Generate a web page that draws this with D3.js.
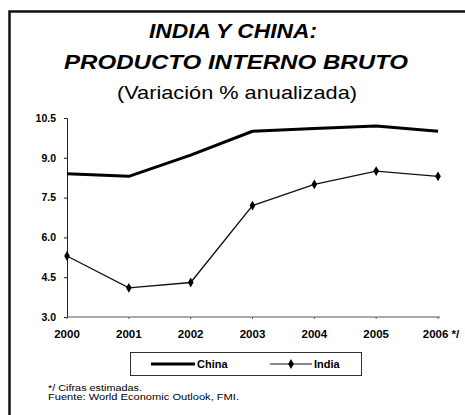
<!DOCTYPE html>
<html>
<head>
<meta charset="utf-8">
<script src="https://cdn.jsdelivr.net/npm/d3@7"></script>
<style>
  body { margin: 0; background: #fff; }
  text { font-family: "Liberation Sans", Arial, sans-serif; fill: #000; }
</style>
</head>
<body>
<script>
// data
const years = ['2000', '2001', '2002', '2003', '2004', '2005', '2006']
const yearLabels = ['2000', '2001', '2002', '2003', '2004', '2005', '2006 */']
const china = [8.4, 8.3, 9.1, 10.0, 10.1, 10.2, 10.0]
const india = [5.3, 4.1, 4.3, 7.2, 8.0, 8.5, 8.3]
const yTicks = [3.0, 4.5, 6.0, 7.5, 9.0, 10.5]

const width = 465
const height = 415

const svg = d3.select('body')
  .append('svg')
  .attr('width', width)
  .attr('height', height)

// frame: top and left edges only, the rest is cut off
svg.append('path')
  .attr('d', 'M9.5,415 V11.5 H465')
  .attr('fill', 'none')
  .attr('stroke', '#111')
  .attr('stroke-width', 2.5)

// titles
svg.append('text')
  .attr('x', 233).attr('y', 38)
  .attr('text-anchor', 'middle')
  .attr('font-size', 20).attr('font-weight', 'bold').attr('font-style', 'italic')
  .attr('textLength', 168).attr('lengthAdjust', 'spacingAndGlyphs')
  .text('INDIA Y CHINA:')

svg.append('text')
  .attr('x', 236).attr('y', 69)
  .attr('text-anchor', 'middle')
  .attr('font-size', 21).attr('font-weight', 'bold').attr('font-style', 'italic')
  .attr('textLength', 344).attr('lengthAdjust', 'spacingAndGlyphs')
  .text('PRODUCTO INTERNO BRUTO')

svg.append('text')
  .attr('x', 237).attr('y', 99)
  .attr('text-anchor', 'middle')
  .attr('font-size', 19)
  .attr('textLength', 240).attr('lengthAdjust', 'spacingAndGlyphs')
  .text('(Variación % anualizada)')

// scales
const x = d3.scalePoint().domain(years).range([67, 438])
const y = d3.scaleLinear().domain([3, 10.5]).range([317, 118])

// y axis
const yAxis = svg.append('g')
  .attr('transform', 'translate(67,0)')
  .call(d3.axisLeft(y).tickValues(yTicks).tickFormat(d3.format('.1f')).tickSize(3).tickPadding(8))
yAxis.select('.domain').attr('stroke', '#222').attr('stroke-width', 1)
yAxis.selectAll('line').attr('stroke', '#222')
yAxis.selectAll('text')
  .attr('font-size', 10.5).attr('font-weight', 'bold')
  .style('font-family', '"Liberation Sans", Arial, sans-serif')

// x axis
const xAxis = svg.append('g')
  .attr('transform', 'translate(0,317)')
  .call(d3.axisBottom(x).tickFormat((d, i) => yearLabels[i]).tickSize(2).tickPadding(11).offset(0))
xAxis.select('.domain').attr('stroke', '#555').attr('stroke-width', 1)
  .attr('d', 'M67,0H440')
xAxis.selectAll('line').attr('stroke', '#555')
xAxis.selectAll('text')
  .attr('font-size', 11.5).attr('font-weight', 'bold')
  .style('font-family', '"Liberation Sans", Arial, sans-serif')
xAxis.selectAll('.tick').filter((d, i) => i === years.length - 1)
  .select('text').attr('dx', 3)

// lines
const line = d3.line()
  .x((d, i) => x(years[i]))
  .y(d => y(d))

svg.append('path')
  .datum(china)
  .attr('d', line)
  .attr('fill', 'none')
  .attr('stroke', '#000')
  .attr('stroke-width', 3)
  .attr('stroke-linejoin', 'round')

svg.append('path')
  .datum(india)
  .attr('d', line)
  .attr('fill', 'none')
  .attr('stroke', '#111')
  .attr('stroke-width', 1.3)

const diamond = d3.symbol().type(d3.symbolDiamond).size(28)

svg.append('g')
  .selectAll('path')
  .data(india)
  .join('path')
  .attr('transform', (d, i) => `translate(${x(years[i])},${y(d)})`)
  .attr('d', diamond)
  .attr('fill', '#000')

// legend
const legend = svg.append('g')
legend.append('rect')
  .attr('x', 130.5).attr('y', 352.5)
  .attr('width', 231).attr('height', 23)
  .attr('fill', 'none')
  .attr('stroke', '#333')
  .attr('stroke-width', 1)

legend.append('line')
  .attr('x1', 151).attr('x2', 195).attr('y1', 364).attr('y2', 364)
  .attr('stroke', '#000').attr('stroke-width', 3)
legend.append('text')
  .attr('x', 197).attr('y', 368)
  .attr('font-size', 11).attr('font-weight', 'bold')
  .text('China')

legend.append('line')
  .attr('x1', 270).attr('x2', 312).attr('y1', 364).attr('y2', 364)
  .attr('stroke', '#111').attr('stroke-width', 1.2)
legend.append('path')
  .attr('transform', 'translate(291,364)')
  .attr('d', diamond)
  .attr('fill', '#000')
legend.append('text')
  .attr('x', 314).attr('y', 368)
  .attr('font-size', 11).attr('font-weight', 'bold')
  .text('India')

// footnotes
svg.append('text')
  .attr('x', 48).attr('y', 391)
  .attr('font-size', 8.5)
  .attr('textLength', 94).attr('lengthAdjust', 'spacingAndGlyphs')
  .text('*/ Cifras estimadas.')

svg.append('text')
  .attr('x', 48).attr('y', 400)
  .attr('font-size', 8.5)
  .attr('textLength', 191).attr('lengthAdjust', 'spacingAndGlyphs')
  .text('Fuente: World Economic Outlook, FMI.')
</script>
</body>
</html>
